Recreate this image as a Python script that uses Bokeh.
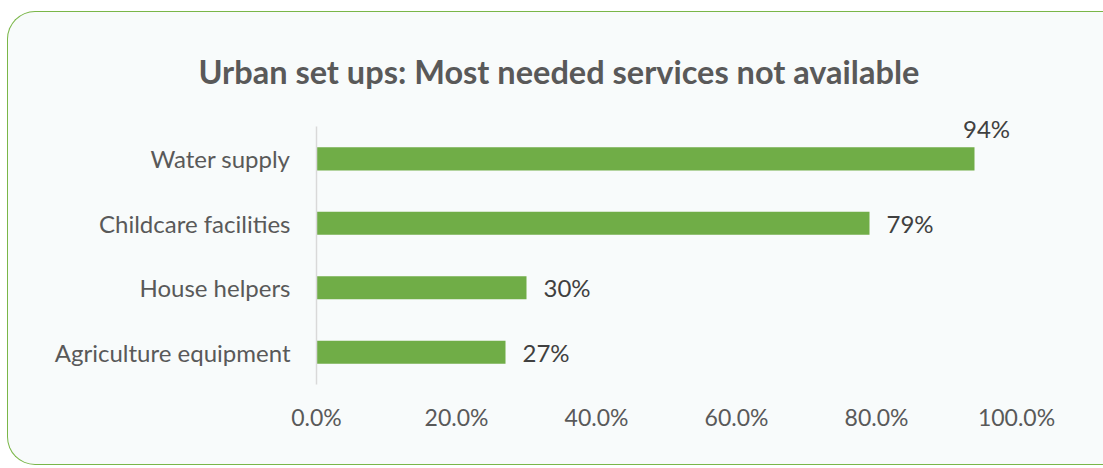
from bokeh.plotting import figure
from bokeh.models import ColumnDataSource, Range1d, FixedTicker
from bokeh.core.properties import value
from bokeh.embed import file_html
from bokeh.resources import INLINE

categories = ["Water supply", "Childcare facilities", "House helpers", "Agriculture equipment"]
values = [94, 79, 30, 27]
labels = ["94%", "79%", "30%", "27%"]
x_ticks = [0, 20, 40, 60, 80, 100]
title_text = "Urban set ups: Most needed services not available"

FONT = "Lato"
GREY = "#595959"
BAR = "#70AD47"

n = len(categories)
# category slots: first category at the top
ypos = [n - 1 - i + 0.5 for i in range(n)]

# label placement: a label that would run past the frame sits above the bar end
x_off, y_off, aligns = [], [], []
for v in values:
    if v > 90:
        x_off.append(12); y_off.append(-30); aligns.append("center")
    else:
        x_off.append(17); y_off.append(0); aligns.append("left")

src = ColumnDataSource(dict(y=ypos, val=values, lab=labels,
                            xo=x_off, yo=y_off, al=aligns))

p = figure(width=1096, height=454, output_backend="svg", toolbar_location=None,
           y_range=Range1d(0, 4.39), x_range=Range1d(0, 100),
           title=title_text,
           min_border_left=308, min_border_right=88,
           min_border_top=89, min_border_bottom=82,
           styles={"border": "1.5px solid #7ab648", "border-radius": "28px",
                   "border-right": "none",
                   "border-top-right-radius": "0", "border-bottom-right-radius": "0",
                   "background-color": "#f8fbfb", "margin": "11px 0 0 7px"})
p.border_fill_color = None
p.background_fill_color = None
p.outline_line_color = None
p.grid.grid_line_color = None

p.title.align = "left"
p.title.offset = -118
p.title.standoff = 22
p.title.text_font = FONT
p.title.text_font_size = "32.5px"
p.title.text_font_style = "bold"
p.title.text_color = GREY

p.hbar(y="y", right="val", left=0, height=0.357, source=src,
       fill_color=BAR, line_color=None)

p.text(x="val", y="y", text="lab", source=src, x_offset="xo", y_offset="yo",
       text_align="al", text_baseline="middle", text_font=value(FONT),
       text_font_size="24px", text_color="#404040")

# axes
p.xaxis.ticker = FixedTicker(ticks=x_ticks)
p.xaxis.major_label_overrides = {t: f"{t:.1f}%" for t in x_ticks}
p.xaxis.axis_line_color = None
p.xaxis.major_tick_line_color = None
p.xaxis.minor_tick_line_color = None
p.xaxis.major_tick_out = 0
p.xaxis.major_label_standoff = 18
p.xaxis.major_label_text_font = FONT
p.xaxis.major_label_text_font_size = "23px"
p.xaxis.major_label_text_color = GREY

p.yaxis.ticker = FixedTicker(ticks=ypos)
p.yaxis.major_label_overrides = {y: c for y, c in zip(ypos, categories)}
p.yaxis.bounds = (0, n)
p.yaxis.axis_line_color = "#d9d9d9"
p.yaxis.axis_line_width = 1.5
p.yaxis.major_tick_line_color = None
p.yaxis.minor_tick_line_color = None
p.yaxis.major_tick_out = 0
p.yaxis.major_label_standoff = 26
p.yaxis.major_label_text_font = FONT
p.yaxis.major_label_text_font_size = "24px"
p.yaxis.major_label_text_color = GREY

open("out.html", "w").write(file_html(p, INLINE))
